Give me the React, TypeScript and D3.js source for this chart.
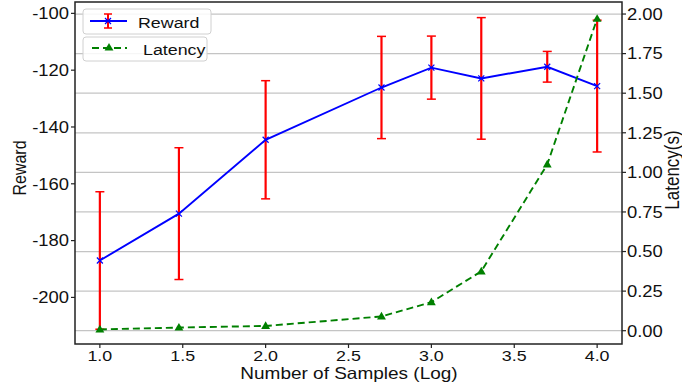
import React, { useEffect, useRef } from 'react'
import * as d3 from 'd3'

// log10 of the sample counts
const samples = [1.0, 1.477, 2.0, 2.699, 3.0, 3.301, 3.699, 4.0]
const reward = [-187.0, -170.5, -144.5, -126.1, -119.1, -122.9, -118.8, -125.6]
const rewardErr = [24.2, 23.2, 20.8, 18.0, 11.1, 21.4, 5.4, 23.2]
const latency = [0.008, 0.02, 0.03, 0.09, 0.18, 0.375, 1.05, 1.97]

const xTicks = [1.0, 1.5, 2.0, 2.5, 3.0, 3.5, 4.0]
const rewardTicks = [-200, -180, -160, -140, -120, -100]
const latencyTicks = [0, 0.25, 0.5, 0.75, 1.0, 1.25, 1.5, 1.75, 2.0]

const W = 682
const H = 388
const FONT = '"Liberation Sans", Arial, sans-serif'
const STRETCH = 1.15

const App = () => {
  const ref = useRef<SVGSVGElement>(null)

  useEffect(() => {
    const svg = d3.select(ref.current)
    svg.selectAll('*').remove()

    const left = 75, right = 622, top = 2, bottom = 344

    const x = d3.scaleLinear().domain([0.85, 4.15]).range([left, right])
    const yL = d3.scaleLinear().domain([-216.4, -96]).range([bottom, top])
    const yR = d3.scaleLinear().domain([-0.084, 2.076]).range([bottom, top])

    // grid from the latency axis
    svg.append('g')
      .selectAll('line')
      .data(latencyTicks)
      .enter()
      .append('line')
      .attr('x1', left).attr('x2', right)
      .attr('y1', d => yR(d)).attr('y2', d => yR(d))
      .attr('stroke', '#c4c4c4')
      .attr('stroke-width', 1.3)

    // error bars
    const eb = svg.append('g')
    samples.forEach((s, i) => {
      const cx = x(s)
      const y1 = yL(reward[i] + rewardErr[i])
      const y2 = yL(reward[i] - rewardErr[i])
      eb.append('line').attr('x1', cx).attr('x2', cx).attr('y1', y1).attr('y2', y2)
        .attr('stroke', '#ff0000').attr('stroke-width', 2.2)
      ;[y1, y2].forEach(yy => {
        eb.append('line').attr('x1', cx - 4.5).attr('x2', cx + 4.5).attr('y1', yy).attr('y2', yy)
          .attr('stroke', '#ff0000').attr('stroke-width', 1.5)
      })
    })

    // reward line
    const rLine = d3.line<number>().x((d, i) => x(samples[i])).y(d => yL(d))
    svg.append('path').attr('d', rLine(reward)).attr('fill', 'none')
      .attr('stroke', '#0000ff').attr('stroke-width', 1.9)
    const xm = svg.append('g')
    reward.forEach((r, i) => {
      const cx = x(samples[i]), cy = yL(r), k = 3
      xm.append('path').attr('d', `M${cx - k},${cy - k}L${cx + k},${cy + k}M${cx - k},${cy + k}L${cx + k},${cy - k}`)
        .attr('stroke', '#0000ff').attr('stroke-width', 1.2)
    })

    // latency line
    const lLine = d3.line<number>().x((d, i) => x(samples[i])).y(d => yR(d))
    svg.append('path').attr('d', lLine(latency)).attr('fill', 'none')
      .attr('stroke', '#008000').attr('stroke-width', 1.9).attr('stroke-dasharray', '7,4')
    const tri = d3.symbol().type(d3.symbolTriangle).size(34)
    svg.append('g').selectAll('path').data(latency).enter().append('path')
      .attr('d', tri)
      .attr('transform', (d, i) => `translate(${x(samples[i])},${yR(d) + 0.5})`)
      .attr('fill', '#008000')

    // spines
    svg.append('rect').attr('x', left).attr('y', top).attr('width', right - left).attr('height', bottom - top)
      .attr('fill', 'none').attr('stroke', '#222').attr('stroke-width', 1.5)

    const text = (g, tx, ty, str, size, anchor = 'start') =>
      g.append('text').attr('x', tx).attr('y', ty).text(str)
        .attr('font-size', size).attr('font-family', FONT).attr('text-anchor', anchor).attr('fill', '#111')

    // x axis
    const ax = svg.append('g')
    xTicks.forEach(t => {
      ax.append('line').attr('x1', x(t)).attr('x2', x(t)).attr('y1', bottom).attr('y2', bottom + 4)
        .attr('stroke', '#222').attr('stroke-width', 1.2)
      text(ax, x(t), 361, d3.format('.1f')(t), 15.5, 'middle').attr('class', 'hz')
    })
    text(ax, (left + right) / 2 + 0.5, 379, 'Number of Samples (Log)', 16.5, 'middle').attr('class', 'hz')

    // left axis
    const al = svg.append('g')
    rewardTicks.forEach(t => {
      al.append('line').attr('x1', left - 4).attr('x2', left).attr('y1', yL(t)).attr('y2', yL(t))
        .attr('stroke', '#222').attr('stroke-width', 1.2)
      text(al, left - 6, yL(t) + 5.8, String(t), 16, 'end').attr('class', 'hz')
    })
    text(al, 0, 0, 'Reward', 16, 'middle').attr('transform', `translate(26,168) scale(${STRETCH + 0.05},1) rotate(-90)`)

    // right axis
    const ar = svg.append('g')
    latencyTicks.forEach(t => {
      ar.append('line').attr('x1', right).attr('x2', right + 4).attr('y1', yR(t)).attr('y2', yR(t))
        .attr('stroke', '#222').attr('stroke-width', 1.2)
      text(ar, right + 5, yR(t) + 5.8, d3.format('.2f')(t), 16, 'start').attr('class', 'hz')
    })
    text(ar, 0, 0, 'Latency(s)', 17, 'middle').attr('transform', `translate(679,170) scale(${STRETCH + 0.05},1) rotate(-90)`)

    // legends
    const lg = svg.append('g')
    lg.append('rect').attr('x', 83).attr('y', 9).attr('width', 128).attr('height', 25).attr('rx', 3)
      .attr('fill', '#fff').attr('fill-opacity', 0.85).attr('stroke', '#d0d0d0')
    lg.append('rect').attr('x', 83).attr('y', 37).attr('width', 124).attr('height', 24).attr('rx', 3)
      .attr('fill', '#fff').attr('fill-opacity', 0.85).attr('stroke', '#d0d0d0')

    lg.append('line').attr('x1', 90).attr('x2', 127).attr('y1', 21).attr('y2', 21)
      .attr('stroke', '#0000ff').attr('stroke-width', 1.9)
    lg.append('line').attr('x1', 108).attr('x2', 108).attr('y1', 14).attr('y2', 28)
      .attr('stroke', '#ff0000').attr('stroke-width', 2)
    ;[14, 28].forEach(yy => lg.append('line').attr('x1', 104).attr('x2', 112).attr('y1', yy).attr('y2', yy)
      .attr('stroke', '#ff0000').attr('stroke-width', 1.5))
    lg.append('path').attr('d', 'M105,18L111,24M105,24L111,18').attr('stroke', '#0000ff').attr('stroke-width', 1.2)
    text(lg, 138, 28, 'Reward', 15.5).attr('class', 'hz')

    lg.append('line').attr('x1', 92).attr('x2', 127).attr('y1', 48).attr('y2', 48)
      .attr('stroke', '#008000').attr('stroke-width', 1.9).attr('stroke-dasharray', '7,4')
    lg.append('path').attr('d', tri).attr('transform', 'translate(109,48)').attr('fill', '#008000')
    text(lg, 143, 55, 'Latency', 15.5).attr('class', 'hz')

    // the figure is a bit wider than tall, so stretch horizontal text
    svg.selectAll<SVGTextElement, unknown>('text.hz').each(function () {
      const w = this.getComputedTextLength()
      this.setAttribute('textLength', String(w * STRETCH))
      this.setAttribute('lengthAdjust', 'spacingAndGlyphs')
    })
  }, [])

  return (
    <svg ref={ref} width={W} height={H}
      style={{ position: 'absolute', left: 0, top: 0, background: '#fff' }} />
  )
}

export default App
